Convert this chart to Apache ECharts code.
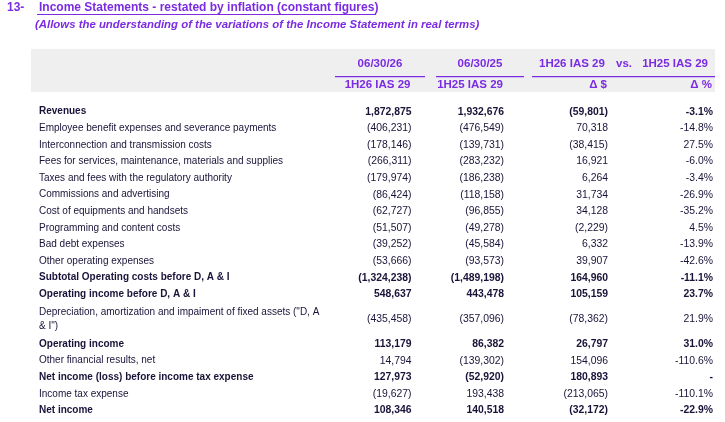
<!DOCTYPE html>
<html>
<head>
<meta charset="utf-8">
<script src="https://cdn.jsdelivr.net/npm/echarts@6/dist/echarts.min.js"></script>
<style>
  html, body { margin: 0; padding: 0; background: #fff; }
  #main { width: 725px; height: 422px; }
</style>
</head>
<body>
<div id="main"></div>
<script>
// row labels
var rowLabels = [
  'Revenues',
  'Employee benefit expenses and severance payments',
  'Interconnection and transmission costs',
  'Fees for services, maintenance, materials and supplies',
  'Taxes and fees with the regulatory authority',
  'Commissions and advertising',
  'Cost of equipments and handsets',
  'Programming and content costs',
  'Bad debt expenses',
  'Other operating expenses',
  'Subtotal Operating costs before D, A & I',
  'Operating income before D, A & I',
  'Depreciation, amortization and impaiment of fixed assets ("D, A\n& I")',
  'Operating income',
  'Other financial results, net',
  'Net income (loss) before income tax expense',
  'Income tax expense',
  'Net income'
];
// rows printed in bold (totals)
var totalRows = [
  'Revenues',
  'Subtotal Operating costs before D, A & I',
  'Operating income before D, A & I',
  'Operating income',
  'Net income (loss) before income tax expense',
  'Net income'
];
var colHeaders = ['1H26 IAS 29', '1H25 IAS 29', '\u0394 $', '\u0394 %'];
var periodHeaders = ['06/30/26', '06/30/25'];
var compareHeader = ['1H26 IAS 29', 'vs.', '1H25 IAS 29'];

var values1H26 = [1872875, -406231, -178146, -266311, -179974, -86424, -62727, -51507, -39252, -53666, -1324238, 548637, -435458, 113179, 14794, 127973, -19627, 108346];
var values1H25 = [1932676, -476549, -139731, -283232, -186238, -118158, -96855, -49278, -45584, -93573, -1489198, 443478, -357096, 86382, -139302, -52920, 193438, 140518];
var deltaAmount = [-59801, 70318, -38415, 16921, 6264, 31734, 34128, -2229, 6332, 39907, 164960, 105159, -78362, 26797, 154096, 180893, -213065, -32172];
var deltaPct = [-3.1, -14.8, 27.5, -6.0, -3.4, -26.9, -35.2, 4.5, -13.9, -42.6, -11.1, 23.7, 21.9, 31.0, -110.6, null, -110.1, -22.9];

var PURPLE = '#7b2ce3';
var INK = '#1a1238';
var FONT = '"Liberation Sans", Arial, sans-serif';

// layout of the columns (right edges of number columns)
var labelX = 39;
var colRight = [411.5, 504, 608, 713];

function fmtAmount(v) {
  var s = Math.abs(v).toLocaleString('en-US');
  return v < 0 ? '(' + s + ')' : s;
}
function fmtPct(v) {
  if (v === null) return '-';
  return v.toFixed(1) + '%';
}

// each row takes as many slots as its label has lines
var rows = [];
var slot = 0;
rowLabels.forEach(function (lab, i) {
  var lines = lab.split('\n').length;
  rows.push([slot + lines / 2, i]);
  slot += lines;
});

function renderRow(params, api) {
  var i = api.value(1);
  var y = api.coord([0, api.value(0)])[1];
  var bold = totalRows.indexOf(rowLabels[i]) >= 0;
  var w = bold ? 'bold' : 'normal';
  var cells = [fmtAmount(values1H26[i]), fmtAmount(values1H25[i]), fmtAmount(deltaAmount[i]), fmtPct(deltaPct[i])];
  var children = [{
    type: 'text',
    style: {
      text: rowLabels[i], x: labelX, y: y, align: 'left', verticalAlign: 'middle',
      fill: INK, font: w + ' 10px ' + FONT, lineHeight: 14
    }
  }];
  cells.forEach(function (c, k) {
    children.push({
      type: 'text',
      style: {
        text: c, x: colRight[k], y: y, align: 'right', verticalAlign: 'middle',
        fill: INK, font: w + ' 10.4px ' + FONT
      }
    });
  });
  return { type: 'group', children: children };
}

var hdrFont = 'bold 11.5px ' + FONT;
var graphics = [
  { type: 'text', left: 7, top: 2, style: { text: '13-', fill: PURPLE, font: 'bold 12px ' + FONT } },
  { type: 'text', left: 39, top: 2, style: { text: 'Income Statements - restated by inflation (constant figures)', fill: PURPLE, font: 'bold 12px ' + FONT } },
  { type: 'line', shape: { x1: 37, y1: 14.5, x2: 376, y2: 14.5 }, style: { stroke: PURPLE, lineWidth: 1 } },
  { type: 'text', left: 35, top: 19, style: { text: '(Allows the understanding of the variations of the Income Statement in real terms)', fill: PURPLE, font: 'italic bold 11.4px ' + FONT } },
  { type: 'rect', shape: { x: 31, y: 49, width: 684, height: 43 }, style: { fill: '#efefef' }, z: -1 },
  { type: 'line', shape: { x1: 335, y1: 76.7, x2: 425, y2: 76.7 }, style: { stroke: PURPLE, lineWidth: 1.2 } },
  { type: 'line', shape: { x1: 436, y1: 76.7, x2: 524, y2: 76.7 }, style: { stroke: PURPLE, lineWidth: 1.2 } },
  { type: 'line', shape: { x1: 532, y1: 76.7, x2: 715, y2: 76.7 }, style: { stroke: PURPLE, lineWidth: 1.2 } },
  { type: 'text', style: { text: periodHeaders[0], x: 380, y: 64, align: 'center', verticalAlign: 'middle', fill: PURPLE, font: hdrFont } },
  { type: 'text', style: { text: periodHeaders[1], x: 480, y: 64, align: 'center', verticalAlign: 'middle', fill: PURPLE, font: hdrFont } },
  { type: 'text', style: { text: compareHeader[0], x: 539, y: 64, align: 'left', verticalAlign: 'middle', fill: PURPLE, font: hdrFont } },
  { type: 'text', style: { text: compareHeader[1], x: 624, y: 64, align: 'center', verticalAlign: 'middle', fill: PURPLE, font: hdrFont } },
  { type: 'text', style: { text: compareHeader[2], x: 708, y: 64, align: 'right', verticalAlign: 'middle', fill: PURPLE, font: hdrFont } }
];
colHeaders.forEach(function (h, k) {
  graphics.push({ type: 'text', style: { text: h, x: colRight[k] - 1, y: 85, align: 'right', verticalAlign: 'middle', fill: PURPLE, font: hdrFont } });
});

var chart = echarts.init(document.getElementById('main'), null, { renderer: 'canvas' });
chart.setOption({
  animation: false,
  grid: { left: 0, right: 0, top: 103.4, height: slot * 16.6 },
  xAxis: { type: 'value', min: 0, max: 1, show: false },
  yAxis: { type: 'value', min: 0, max: slot, inverse: true, show: false },
  graphic: graphics,
  series: [{
    type: 'custom',
    renderItem: renderRow,
    data: rows,
    encode: { x: -1, y: 0 },
    clip: false
  }]
});
</script>
</body>
</html>
